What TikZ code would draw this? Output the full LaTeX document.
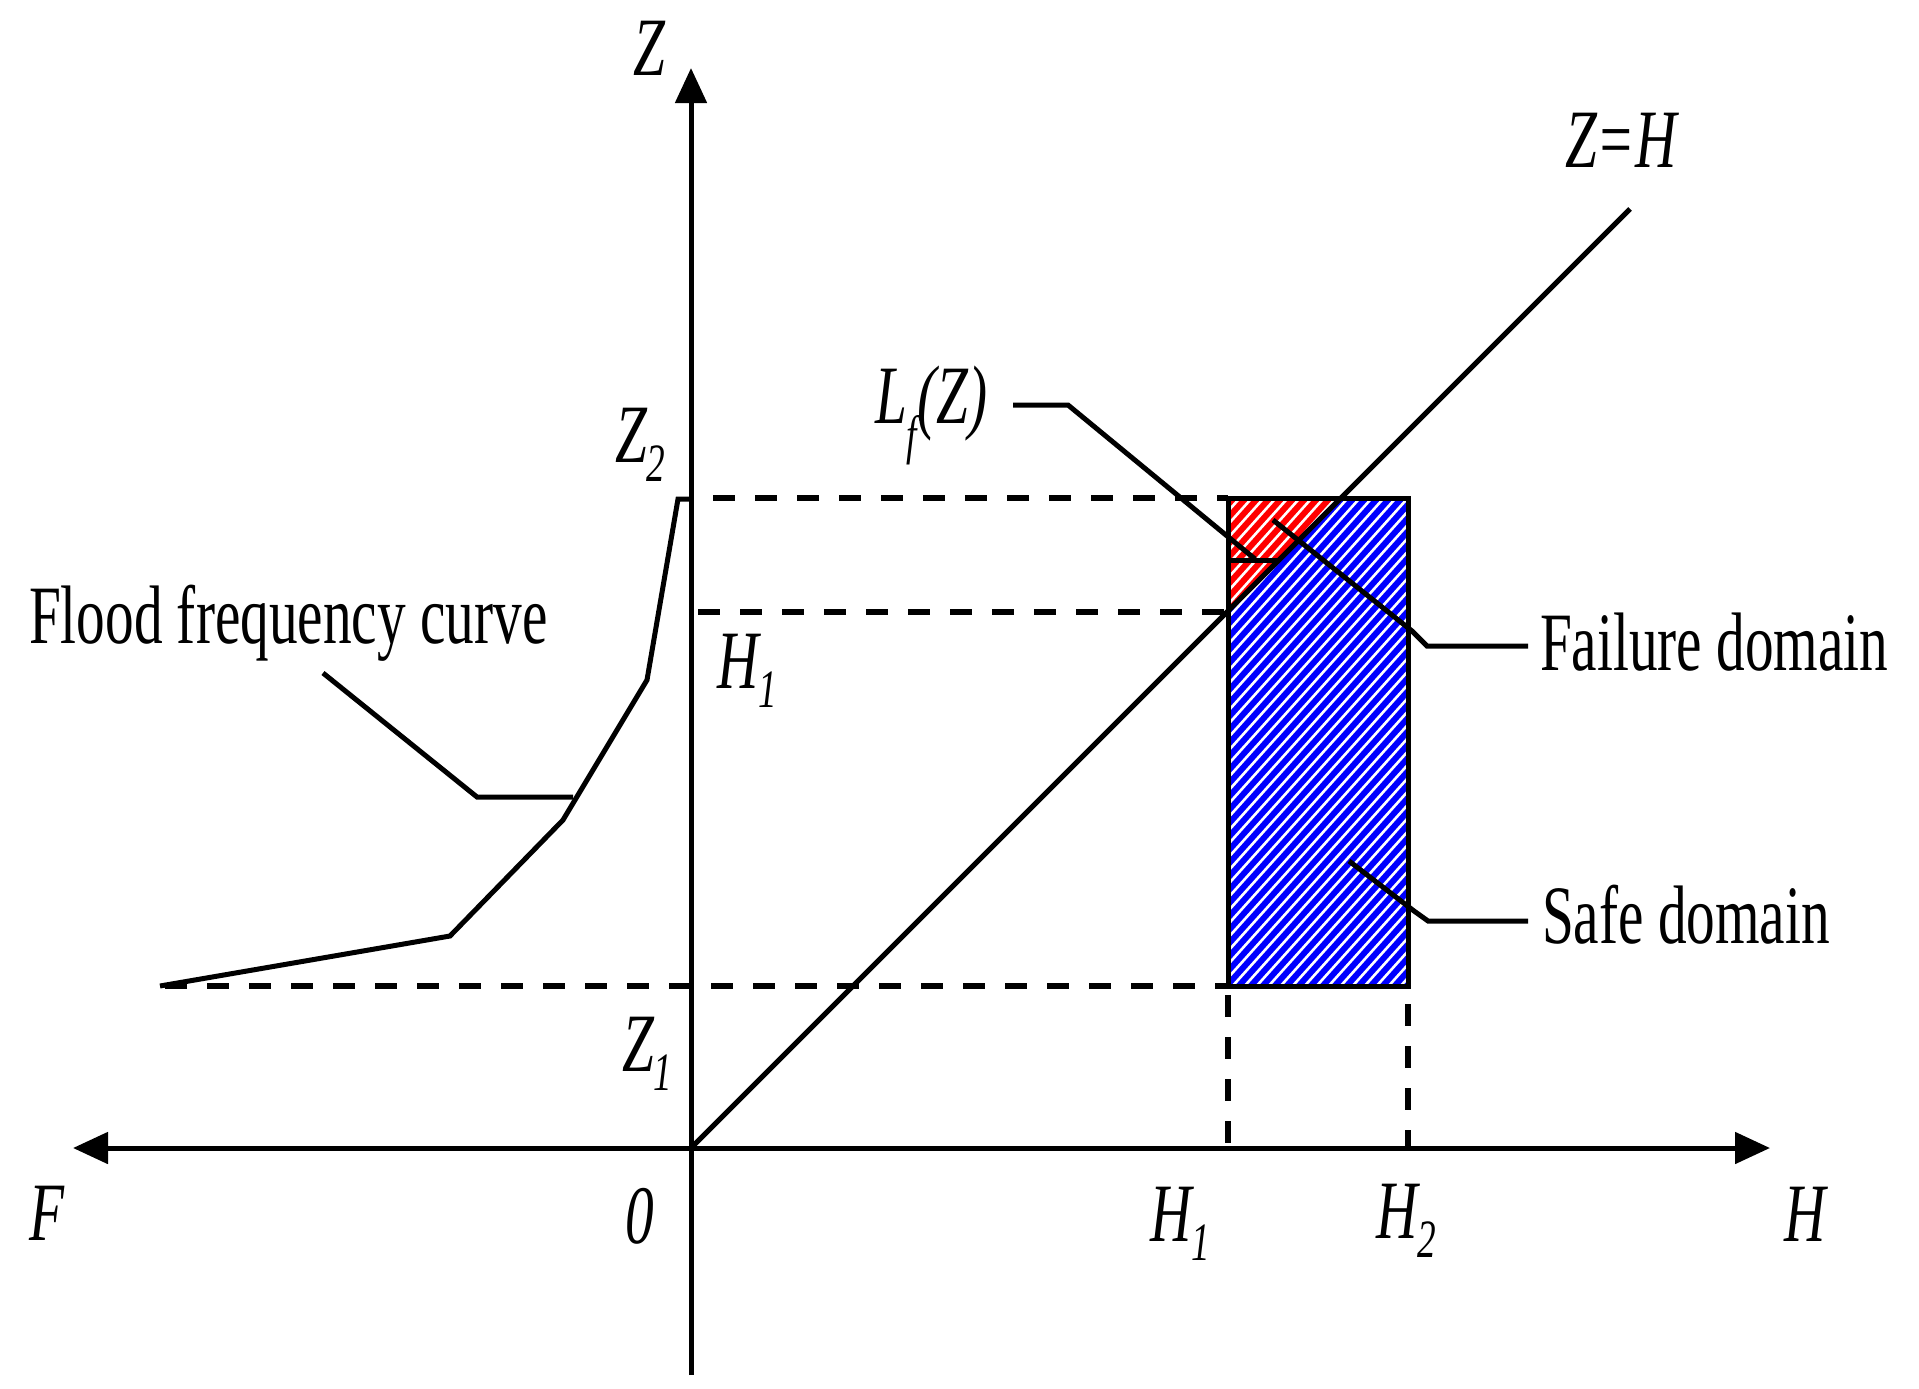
\documentclass[tikz,border=0pt]{standalone}
\usepackage{fontspec}
\setmainfont{Liberation Serif}
\usetikzlibrary{arrows.meta}
\newcommand{\cz}[1]{\scalebox{0.69}[1]{#1}}
\newcommand{\subsc}[2][-19pt]{\raisebox{#1}{\fontsize{54}{60}\selectfont #2}}
\tikzset{
  lbl/.style={inner sep=0pt, outer sep=0pt, anchor=base west, font=\fontsize{83}{96}\selectfont},
  thick line/.style={line width=5pt, line join=miter},
  leader/.style={line width=5pt, line join=miter},
  dashline/.style={line width=5.5pt, dash pattern=on 22pt off 20pt},
  axisarrow/.style={line width=5pt},
}
\begin{document}
\begin{tikzpicture}[x=1pt,y=-1pt]
\useasboundingbox (0,0) rectangle (1919,1389);
\fill[white] (0,0) rectangle (1919,1389);

% key coordinates
\coordinate (O) at (691,1148);
\coordinate (Ztip) at (691,68);
\coordinate (Zbot) at (691,1375);
\coordinate (Ftip) at (73,1148);
\coordinate (Htip) at (1770,1148);
\coordinate (ZHend) at (1630,209);
\coordinate (R1) at (1228,498);
\coordinate (R2) at (1408,986);

% rectangle fills
\fill[blue] (1228,498) rectangle (1408,986);
\fill[red] (1228,498) -- (1341,498) -- (1228,611) -- cycle;
\begin{scope}
  \clip (1228,498) rectangle (1408,986);
  \foreach \k in {0,...,75} {
    \draw[white, line width=2.6pt] ({680+12*\k},1000) -- ({680+12*\k+460},489);
  }
\end{scope}

% dashed guide lines
\draw[dashline] (713,498) -- (1228,498);
\draw[dashline] (698,612) -- (1228,612);
\draw[dashline] (165,986) -- (1228,986);
\draw[dashline] (1228,995) -- (1228,1148);
\draw[dashline] (1408,1004) -- (1408,1148);

% rectangle border
\draw[line width=5pt] (R1) rectangle (R2);

% axes
\draw[axisarrow, {Triangle[length=35pt,width=31pt]}-{Triangle[length=35pt,width=31pt]}] (Ftip) -- (Htip);
\draw[axisarrow, -{Triangle[length=35pt,width=31pt]}] (Zbot) -- (Ztip);

% Z = H line
\draw[thick line] (O) -- (ZHend);

% flood frequency curve
\draw[thick line] (160,986) -- (450,936) -- (563,820) -- (647,680) -- (678,499) -- (691,499);

% labels
\node[lbl] (zlab) at (633,76) {\cz{\itshape Z}};
\node[lbl] (z2lab) at (615,462) {\cz{\itshape Z\subsc{2}}};
\node[lbl] (h1left) at (717,688) {\cz{\itshape H\subsc{1}}};
\node[lbl] (z1lab) at (622,1071) {\cz{\itshape Z\subsc{1}}};
\node[lbl] (flab) at (29,1240) {\cz{\itshape F}};
\node[lbl] (olab) at (625,1243) {\cz{\itshape 0}};
\node[lbl] (h1lab) at (1150,1241) {\cz{\itshape H\subsc{1}}};
\node[lbl] (h2lab) at (1376,1238) {\cz{\itshape H\subsc{2}}};
\node[lbl] (hlab) at (1784,1241) {\cz{\itshape H}};
\node[lbl] (lflab) at (875,423) {\cz{\itshape L\subsc[-30pt]{f}(Z)}};
\node[lbl] (zhlab) at (1565,167) {\cz{\itshape Z=H}};
\node[lbl] (faillab) at (1540,670) {\cz{Failure domain}};
\node[lbl] (safelab) at (1542,943) {\cz{Safe domain}};
\node[lbl] (floodlab) at (29,643) {\cz{Flood frequency curve}};

% leaders
\draw[leader] (323,673) -- (477,797) -- (573,797);
\draw[leader] (1013,405) -- (1068,405) -- (1255,559);
\draw[leader] (1228,560) -- (1278,560);
\draw[leader] (1273,520) -- (1412,631) -- (1427,646) -- (1528,646);
\draw[leader] (1349,861) -- (1414,911) -- (1428,921) -- (1528,921);
\end{tikzpicture}
\end{document}
